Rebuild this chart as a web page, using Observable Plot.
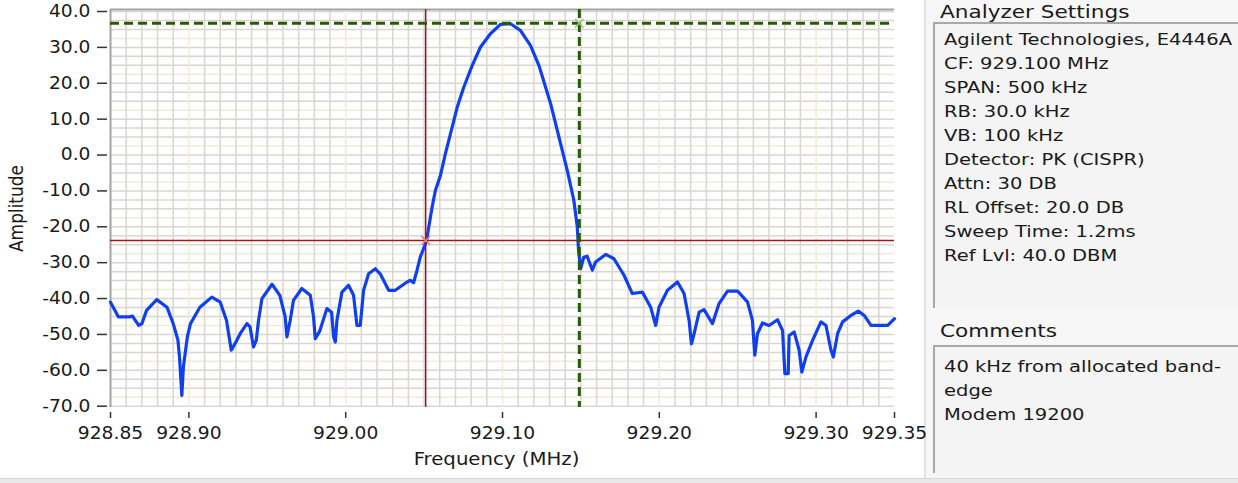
<!DOCTYPE html>
<html><head><meta charset="utf-8">
<script src="https://cdn.jsdelivr.net/npm/d3@7"></script>
<script src="https://cdn.jsdelivr.net/npm/@observablehq/plot@0.6"></script>
<style>
html,body{margin:0;padding:0;background:#fff;}
#root{position:relative;width:1238px;height:483px;overflow:hidden;font-family:"DejaVu Sans",sans-serif;color:#1a1a1a;}
#chart{position:absolute;left:0;top:0;z-index:2;}
#panel{position:absolute;left:924px;top:0;width:314px;height:483px;background:#f6f6f6;border-left:2px solid #e2e2e2;box-sizing:border-box;z-index:1;}
#bottombar{position:absolute;left:0;top:478px;width:1238px;height:5px;background:#e9e9e9;border-top:1px solid #d6d6d6;z-index:3;}
.lbl{position:absolute;left:14px;font-size:18px;line-height:20px;white-space:nowrap;transform:scaleX(1.2);transform-origin:left;}
.box{position:absolute;left:7px;width:320px;background:#f4f4f4;border-top:2px solid #a8a8a8;border-left:2px solid #a8a8a8;box-sizing:border-box;padding:4px 0 0 9px;}
.box div{font-size:16px;line-height:24px;white-space:nowrap;transform:scaleX(1.22);transform-origin:left;}
</style></head><body>
<div id="root">
  <div id="chart"></div>
  <div id="panel">
    <div class="lbl" id="lbl1" style="top:2px"></div>
    <div class="box" id="box1" style="top:22px;height:286px"></div>
    <div class="lbl" id="lbl2" style="top:321px"></div>
    <div class="box" id="box2" style="top:345px;height:128px;padding-top:8px"></div>
  </div>
  <div id="bottombar"></div>
</div>
<script>
// ---- data ----
const freq = [928.850,928.855,928.862,928.864,928.868,928.870,928.873,928.8795,928.886,928.890,928.893,928.894,928.8955,928.8965,928.899,928.901,928.907,928.9146,928.920,928.924,928.927,928.9295,928.9327,928.937,928.939,928.9412,928.943,928.9444,928.9466,928.953,928.958,928.9614,928.9625,928.9646,928.9667,928.972,928.9774,928.9795,928.9806,928.9835,928.988,928.991,928.9923,928.9934,928.9944,928.9976,929.0018,929.005,929.0072,929.0093,929.0114,929.0146,929.0189,929.022,929.0274,929.0316,929.0391,929.0412,929.0433,929.0455,929.0476,929.0515,929.0551,929.0572,929.0604,929.0636,929.0668,929.0711,929.0753,929.0807,929.086,929.0923,929.0987,929.1051,929.1115,929.1179,929.1232,929.1307,929.136,929.1413,929.1455,929.1477,929.1485,929.1498,929.1519,929.154,929.1573,929.1594,929.1658,929.1711,929.1775,929.1828,929.1892,929.1945,929.1977,929.1998,929.2052,929.2116,929.2158,929.219,929.2205,929.2222,929.2254,929.2285,929.2339,929.2381,929.2435,929.2499,929.2563,929.2594,929.2609,929.2626,929.2658,929.270,929.2754,929.2786,929.2801,929.2822,929.2828,929.286,929.2892,929.2909,929.2935,929.2978,929.3031,929.3063,929.3095,929.311,929.3137,929.3169,929.3222,929.3269,929.3307,929.335,929.3457,929.350];
const amp = [-41.0,-45.1,-45.1,-44.9,-47.5,-47.0,-43.3,-40.3,-42.4,-47.0,-51.6,-56.3,-67.0,-59.0,-50.7,-47.0,-42.4,-39.6,-41.0,-46.1,-54.4,-52.5,-49.8,-47.0,-47.9,-53.5,-51.6,-46.1,-40.0,-36.0,-39.1,-45.1,-50.7,-46.1,-40.5,-37.2,-39.1,-45.1,-51.2,-49.0,-42.8,-43.8,-50.7,-52.1,-46.1,-38.2,-36.3,-39.1,-47.5,-47.5,-37.7,-33.1,-31.7,-33.1,-37.7,-37.7,-35.4,-34.9,-35.6,-32.1,-28.4,-24.0,-14.5,-9.9,-5.7,0.4,5.9,13.3,18.9,25.0,30.1,33.8,36.4,36.6,34.7,30.5,25.0,14.3,5.0,-4.3,-12.6,-20.1,-26.6,-31.7,-28.4,-28.2,-32.1,-29.8,-27.7,-28.9,-33.5,-38.6,-38.2,-42.4,-47.5,-42.4,-37.7,-35.4,-38.6,-46.1,-52.6,-49.8,-43.8,-43.1,-47.0,-41.4,-37.9,-37.9,-41.0,-46.1,-55.8,-49.8,-46.8,-47.5,-45.9,-48.9,-60.9,-60.9,-50.3,-49.3,-54.4,-60.5,-56.3,-51.6,-46.5,-47.5,-54.4,-56.3,-49.8,-46.5,-44.7,-43.5,-44.7,-47.5,-47.5,-45.6];

const xTicks = [928.85, 928.90, 929.00, 929.10, 929.20, 929.30, 929.35];
const yTicks = [40, 30, 20, 10, 0, -10, -20, -30, -40, -50, -60, -70];
const xDomain = [928.85, 929.35];
const yDomain = [-70.36, 40.56];

// cursors: red (solid) and green (dashed)
const cursorNames = ["red", "green"];
const cursorFreq = [929.051, 929.149];
const cursorAmp = [-23.8, 36.7];

const xLabel = "Frequency (MHz)";
const yLabel = "Amplitude";

const settingsTitle = "Analyzer Settings";
const settingsLines = ["Agilent Technologies, E4446A","CF: 929.100 MHz","SPAN: 500 kHz","RB: 30.0 kHz","VB: 100 kHz","Detector: PK (CISPR)","Attn: 30 DB","RL Offset: 20.0 DB","Sweep Time: 1.2ms","Ref Lvl: 40.0 DBM"];
const commentsTitle = "Comments";
const commentLines = ["40 kHz from allocated band-","edge","Modem 19200"];

// ---- build ----
const trace = freq.map((f, i) => ({f, a: amp[i]}));
const cursors = cursorNames.map((n, i) => ({name: n, f: cursorFreq[i], a: cursorAmp[i]}));
const red = cursors.filter(d => d.name === "red");
const green = cursors.filter(d => d.name === "green");

const gridX = d3.range(1, 50).map(i => +(xDomain[0] + i * 0.01).toFixed(2));
const isMajorX = v => Math.abs(v * 10 - Math.round(v * 10)) <= 1e-6;
const minorX = gridX.filter(v => !isMajorX(v));
const majorX = gridX.filter(isMajorX);
const allY = d3.range(-70, 40.01, 2.5);
const majorY = allY.filter(v => ((v - 2.5) % 10 + 10) % 10 === 0);
const minorY = allY.filter(v => !majorY.includes(v));

const chart = Plot.plot({
  width: 918, height: 483,
  marginLeft: 110, marginRight: 24, marginTop: 9, marginBottom: 76,
  style: {fontFamily: "DejaVu Sans, sans-serif", fontSize: "17px", color: "#1a1a1a", background: "transparent", overflow: "visible"},
  x: {domain: xDomain},
  y: {domain: yDomain},
  marks: [
    Plot.ruleY(minorY, {stroke: "#d9d6d0", strokeWidth: 1.5}),
    Plot.ruleY(majorY, {stroke: "#f1ead6", strokeWidth: 1.5}),
    Plot.ruleX(minorX, {stroke: "#d9d6d0", strokeWidth: 1.5}),
    Plot.ruleX(majorX, {stroke: "#f1ead6", strokeWidth: 1.5}),
    Plot.ruleY([yDomain[1]], {stroke: "#a3a3a3", strokeWidth: 2}),
    Plot.ruleX([xDomain[0]], {stroke: "#a3a3a3", strokeWidth: 2}),
    Plot.line(trace, {x: "f", y: "a", stroke: "#0f3ff0", strokeWidth: 3.2, strokeLinejoin: "round"}),
    Plot.ruleX(red, {x: "f", stroke: "#a81414", strokeWidth: 1.5}),
    Plot.ruleY(red, {y: "a", stroke: "#a81414", strokeWidth: 1.5}),
    Plot.dot(red, {x: "f", y: "a", symbol: "times", r: 4, stroke: "#e87a7a", strokeWidth: 1.5}),
    Plot.ruleX(green, {x: "f", stroke: "#255b06", strokeWidth: 3, strokeDasharray: "9,5"}),
    Plot.ruleY(green, {y: "a", stroke: "#255b06", strokeWidth: 3, strokeDasharray: "9,5"}),
    Plot.dot(green, {x: "f", y: "a", symbol: "times", r: 4, stroke: "#9cc07c", strokeWidth: 1.5}),
    Plot.axisY({ticks: yTicks, tickFormat: d => d.toFixed(1), tickSize: 10, dx: -3, tickPadding: 7, label: null, stroke: "#333", strokeWidth: 1.5}),
    Plot.axisX({ticks: xTicks, tickFormat: d => d.toFixed(2), tickSize: 6, dy: 5, tickPadding: 8, label: null, stroke: "#333", strokeWidth: 1.5}),
    Plot.text([xLabel], {text: d => d, frameAnchor: "bottom", textAnchor: "middle", dy: 57, dx: -6, fontSize: 17}),
    Plot.text([yLabel], {text: d => d, frameAnchor: "left", textAnchor: "middle", rotate: -90, dx: -93, fontSize: 17})
  ]
});
document.getElementById("chart").appendChild(chart);

// stretch text horizontally like the reference rendering
const SX = 1.1;
chart.querySelectorAll("text").forEach(t => {
  const isXLabel = t.textContent === xLabel;
  const s = isXLabel ? 1.16 : SX;
  const tr = t.getAttribute("transform");
  const rotated = tr && tr.includes("rotate");
  const sc = rotated ? `scale(1,${s})` : `scale(${s},1)`;
  if (tr) t.setAttribute("transform", tr + " " + sc);
  else {
    const x = +(t.getAttribute("x") || 0), y = +(t.getAttribute("y") || 0);
    t.setAttribute("transform", `translate(${x},${y}) ${sc} translate(${-x},${-y})`);
  }
});

document.getElementById("lbl1").textContent = settingsTitle;
document.getElementById("lbl2").textContent = commentsTitle;
const b1 = document.getElementById("box1");
settingsLines.forEach(s => { const d = document.createElement("div"); d.textContent = s; b1.appendChild(d); });
const b2 = document.getElementById("box2");
commentLines.forEach(s => { const d = document.createElement("div"); d.textContent = s; b2.appendChild(d); });
</script>
</body></html>
